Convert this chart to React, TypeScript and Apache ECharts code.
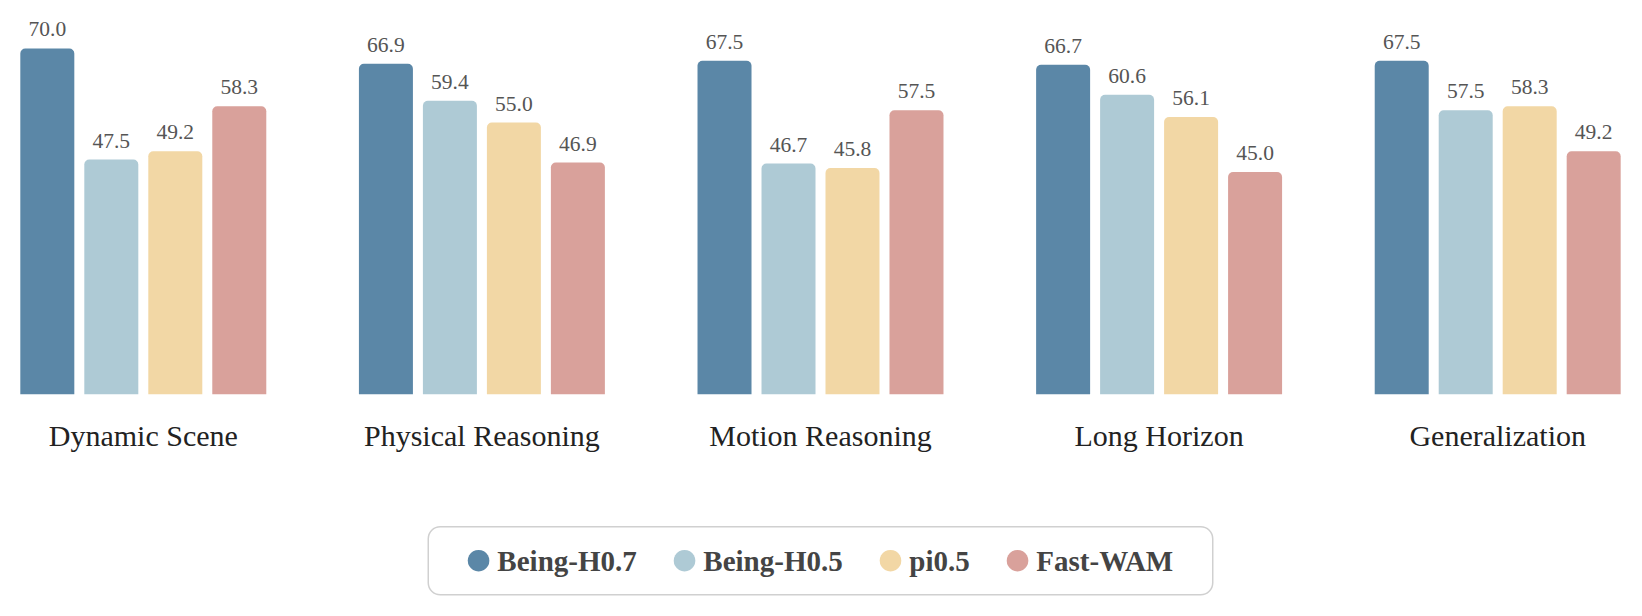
import React, { useEffect, useRef } from "react";
import * as echarts from "echarts";

const categories = ["Dynamic Scene", "Physical Reasoning", "Motion Reasoning", "Long Horizon", "Generalization"];
const seriesNames = ["Being-H0.7", "Being-H0.5", "pi0.5", "Fast-WAM"];
const beingH07 = [70.0, 66.9, 67.5, 66.7, 67.5];
const beingH05 = [47.5, 59.4, 46.7, 60.6, 57.5];
const pi05 = [49.2, 55.0, 45.8, 56.1, 58.3];
const fastWAM = [58.3, 46.9, 57.5, 45.0, 49.2];
const colors = ["#5B87A7", "#AECAD5", "#F2D7A5", "#D9A19B"];

const FONT = "'Liberation Serif', 'DejaVu Serif', serif";
const PAGE_W = 1642;
const PAGE_H = 616;
const OVERHANG = 25.6;

export default function App() {
  const ref = useRef<HTMLDivElement>(null);
  useEffect(() => {
    if (!ref.current) return;
    const chart = echarts.init(ref.current, undefined, { renderer: "svg" });
    const allData = [beingH07, beingH05, pi05, fastWAM];
    chart.setOption({
      animation: false,
      backgroundColor: "#ffffff",
      grid: { left: 0, right: 0, top: 0, bottom: 221.7, containLabel: false },
      xAxis: {
        type: "category",
        data: categories,
        axisLine: { show: false },
        axisTick: { show: false },
        axisLabel: { margin: 26, fontFamily: FONT, fontSize: 30, color: "#222222" },
      },
      yAxis: { type: "value", min: 0, max: 79.8, show: false, splitLine: { show: false } },
      legend: {
        data: seriesNames,
        left: "center",
        top: 526.7,
        icon: "circle",
        itemWidth: 21.6,
        itemHeight: 21.6,
        itemGap: 37,
        padding: [19.5, 39.5, 19.5, 39.5],
        borderColor: "#d0d0d0",
        borderWidth: 1.5,
        borderRadius: 12,
        textStyle: {
          fontFamily: FONT,
          fontSize: 29,
          lineHeight: 22,
          fontWeight: "bold",
          color: "#444444",
          padding: [0, 0, 0, 3],
        },
      },
      series: allData.map((d, i) => ({
        name: seriesNames[i],
        type: "bar",
        data: d,
        barWidth: 54,
        barGap: "18.5%",
        itemStyle: { color: colors[i], borderRadius: [5, 5, 0, 0] },
        label: {
          show: true,
          position: "top",
          distance: 8,
          formatter: (p: any) => Number(p.value).toFixed(1),
          fontFamily: FONT,
          fontSize: 21.5,
          color: "#555555",
        },
      })),
    });
    return () => chart.dispose();
  }, []);
  return (
    <div style={{ width: PAGE_W, height: PAGE_H, overflow: "hidden", position: "relative", margin: -8, background: "#fff" }}>
      <div
        ref={ref}
        style={{ position: "absolute", left: -OVERHANG, top: 0, width: PAGE_W + 2 * OVERHANG, height: PAGE_H }}
      />
    </div>
  );
}
